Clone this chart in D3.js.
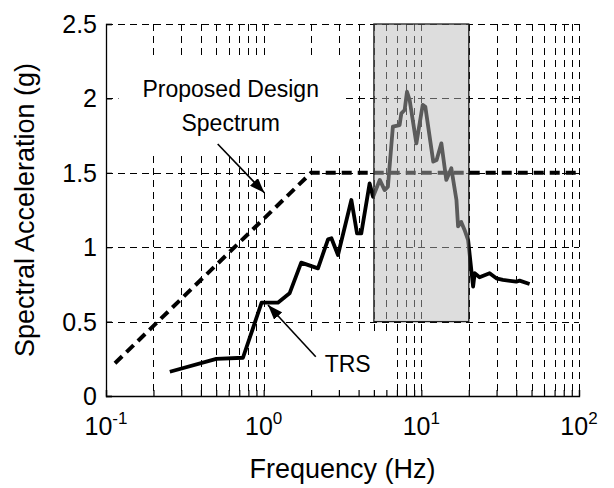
<!DOCTYPE html>
<html>
<head>
<meta charset="utf-8">
<script src="https://cdn.jsdelivr.net/npm/d3@7"></script>
<style>
  body { margin: 0; background: #fff; }
  text { font-family: "Liberation Sans", Arial, sans-serif; fill: #000; }
</style>
</head>
<body>
<div id="chart"></div>
<script>
// Chart data
var designFreq = [0.114, 2, 100];
var designAcc = [0.22, 1.5, 1.5];

var trsFreq = [0.254, 0.501, 0.739, 0.97, 1.23, 1.46, 1.73, 2.21, 2.56, 2.69, 2.96, 3.60, 3.91, 4.16, 4.70,
  4.94, 5.45, 5.85, 6.14, 6.60, 7.28, 7.47, 7.84, 8.11, 8.43, 9.30, 10.2, 10.6, 11.9, 12.5, 13.4, 14.4,
  15.5, 16.7, 17.1, 17.9, 18.8, 19.8, 21.3, 21.8, 23.4, 27.1, 29.9, 32.9, 40.0, 42.0, 48.6];
var trsAcc = [0.163, 0.249, 0.257, 0.627, 0.627, 0.69, 0.896, 0.858, 1.053, 1.06, 0.948, 1.317, 1.093, 1.093, 1.429,
  1.339, 1.452, 1.384, 1.407, 1.810, 1.821, 1.900, 1.922, 2.045, 1.989, 1.698, 1.956, 1.944, 1.575, 1.586, 1.698, 1.452,
  1.530, 1.317, 1.14, 1.17, 1.116, 1.048, 0.735, 0.825, 0.798, 0.825, 0.791, 0.780, 0.768, 0.775, 0.753];

// shaded frequency band
var bandFreq = [5, 20];
var bandAcc = [0.5, 2.5];

var yTicks = [0, 0.5, 1, 1.5, 2, 2.5];
var yTickLabels = ["0", "0.5", "1", "1.5", "2", "2.5"];
var xMajor = [0.1, 1, 10, 100];
var xExponents = ["-1", "0", "1", "2"];

// SVG wrapper width and height
var svgWidth = 614;
var svgHeight = 488;

var margin = { top: 24, right: 35, bottom: 92, left: 106 };
var width = svgWidth - margin.left - margin.right;
var height = svgHeight - margin.top - margin.bottom;

var svg = d3.select("#chart")
  .append("svg")
  .attr("width", svgWidth)
  .attr("height", svgHeight);

var defs = svg.append("defs");
defs.append("marker")
  .attr("id", "arrow")
  .attr("markerUnits", "userSpaceOnUse")
  .attr("markerWidth", 15)
  .attr("markerHeight", 11)
  .attr("refX", 15)
  .attr("refY", 5.5)
  .attr("orient", "auto")
  .append("path")
  .attr("d", "M0,0 L15,5.5 L0,11 Z")
  .attr("fill", "#000");

var chartGroup = svg.append("g")
  .attr("transform", `translate(${margin.left}, ${margin.top})`);

// Scales
var xLogScale = d3.scaleLog()
  .domain([0.1, 100])
  .range([0, width]);

var yLinearScale = d3.scaleLinear()
  .domain([0, 2.5])
  .range([height, 0]);

// all log ticks: majors and minors
var xAllTicks = [];
xMajor.forEach(function(m, i) {
  for (var k = 1; k <= 9; k++) {
    if (i === xMajor.length - 1 && k > 1) break;
    xAllTicks.push(m * k);
  }
});

// Grid lines
var gridGroup = chartGroup.append("g")
  .attr("shape-rendering", "crispEdges");

gridGroup.selectAll(".vgrid")
  .data(xAllTicks)
  .enter()
  .append("line")
  .attr("x1", d => Math.round(xLogScale(d)) + 0.5)
  .attr("x2", d => Math.round(xLogScale(d)) + 0.5)
  .attr("y1", 0)
  .attr("y2", height)
  .attr("stroke", "#000")
  .attr("stroke-width", 1)
  .attr("stroke-dasharray", "7,5");

gridGroup.selectAll(".hgrid")
  .data(yTicks.slice(1))
  .enter()
  .append("line")
  .attr("x1", 0)
  .attr("x2", width)
  .attr("y1", d => Math.round(yLinearScale(d)) + 0.5)
  .attr("y2", d => Math.round(yLinearScale(d)) + 0.5)
  .attr("stroke", "#000")
  .attr("stroke-width", 1)
  .attr("stroke-dasharray", "7,5");

// white boxes behind the annotation text (sized after the text)
var boxGroup = chartGroup.append("g");

var designData = designFreq.map((f, i) => ({ f: f, a: designAcc[i] }));
var trsData = trsFreq.map((f, i) => ({ f: f, a: trsAcc[i] }));

var line = d3.line()
  .x(d => xLogScale(d.f))
  .y(d => yLinearScale(d.a));

// Design spectrum (dashed)
chartGroup.append("path")
  .datum(designData)
  .attr("d", line)
  .attr("fill", "none")
  .attr("stroke", "#000")
  .attr("stroke-width", 4)
  .attr("stroke-dasharray", "10,6");

// TRS curve
chartGroup.append("path")
  .datum(trsData)
  .attr("d", line)
  .attr("fill", "none")
  .attr("stroke", "#000")
  .attr("stroke-width", 3.8)
  .attr("stroke-linejoin", "round");

// Shaded band laid over the curves
chartGroup.append("rect")
  .attr("x", xLogScale(bandFreq[0]))
  .attr("y", yLinearScale(bandAcc[1]))
  .attr("width", xLogScale(bandFreq[1]) - xLogScale(bandFreq[0]))
  .attr("height", yLinearScale(bandAcc[0]) - yLinearScale(bandAcc[1]))
  .attr("fill", "rgb(185,185,185)")
  .attr("fill-opacity", 0.49)
  .attr("stroke", "#222")
  .attr("stroke-width", 1.3);

// Axes (box off, ticks inside)
var bottomAxis = d3.axisBottom(xLogScale)
  .tickValues(xAllTicks)
  .tickSize(-6)
  .tickFormat("");
var leftAxis = d3.axisLeft(yLinearScale)
  .tickValues(yTicks)
  .tickSize(-6)
  .tickFormat("");

var xAxisG = chartGroup.append("g")
  .attr("transform", `translate(0, ${height})`)
  .call(bottomAxis);
var yAxisG = chartGroup.append("g")
  .call(leftAxis);

[xAxisG, yAxisG].forEach(function(g) {
  g.select(".domain").attr("stroke", "#000").attr("stroke-width", 1.3);
  g.selectAll(".tick line").attr("stroke", "#000").attr("stroke-width", 1.2);
});

// Tick labels
yTicks.forEach(function(t, i) {
  chartGroup.append("text")
    .attr("x", -9)
    .attr("y", yLinearScale(t))
    .attr("dy", "0.36em")
    .attr("text-anchor", "end")
    .style("font-size", "25px")
    .text(yTickLabels[i]);
});

xMajor.forEach(function(t, i) {
  var lbl = chartGroup.append("text")
    .attr("x", xLogScale(t))
    .attr("y", height + 39)
    .attr("text-anchor", "middle")
    .style("font-size", "25px");
  lbl.append("tspan").text("10");
  lbl.append("tspan")
    .attr("dy", -11)
    .style("font-size", "17px")
    .text(xExponents[i]);
});

// Axis labels
chartGroup.append("text")
  .attr("transform", `translate(${34 - margin.left}, ${height / 2}) rotate(-90)`)
  .attr("text-anchor", "middle")
  .style("font-size", "27px")
  .text("Spectral Acceleration (g)");

chartGroup.append("text")
  .attr("x", width / 2)
  .attr("y", 478 - margin.top)
  .attr("text-anchor", "middle")
  .style("font-size", "27px")
  .text("Frequency (Hz)");

// Annotations
function addNote(lines, fx, ay, lineGap, tail, tip) {
  var g = chartGroup.append("g");
  var txt = g.append("text")
    .attr("text-anchor", "middle")
    .style("font-size", "23px");
  lines.forEach(function(s, i) {
    txt.append("tspan")
      .attr("x", xLogScale(fx))
      .attr("y", yLinearScale(ay) + i * lineGap)
      .text(s);
  });
  var bb = txt.node().getBBox();
  boxGroup.append("rect")
    .attr("x", bb.x - 24)
    .attr("y", bb.y - 17)
    .attr("width", bb.width + 48)
    .attr("height", bb.height + 32)
    .attr("fill", "#fff");
  g.append("line")
    .attr("x1", xLogScale(tail[0]))
    .attr("y1", yLinearScale(tail[1]))
    .attr("x2", xLogScale(tip[0]))
    .attr("y2", yLinearScale(tip[1]))
    .attr("stroke", "#000")
    .attr("stroke-width", 1.6)
    .attr("marker-end", "url(#arrow)");
}

addNote(["Proposed Design", "Spectrum"], 0.618, 2.01, 34.5, [0.511, 1.694], [1.01, 1.366]);
addNote(["TRS"], 3.41, 0.163, 0, [2.14, 0.264], [1.065, 0.612]);
</script>
</body>
</html>
